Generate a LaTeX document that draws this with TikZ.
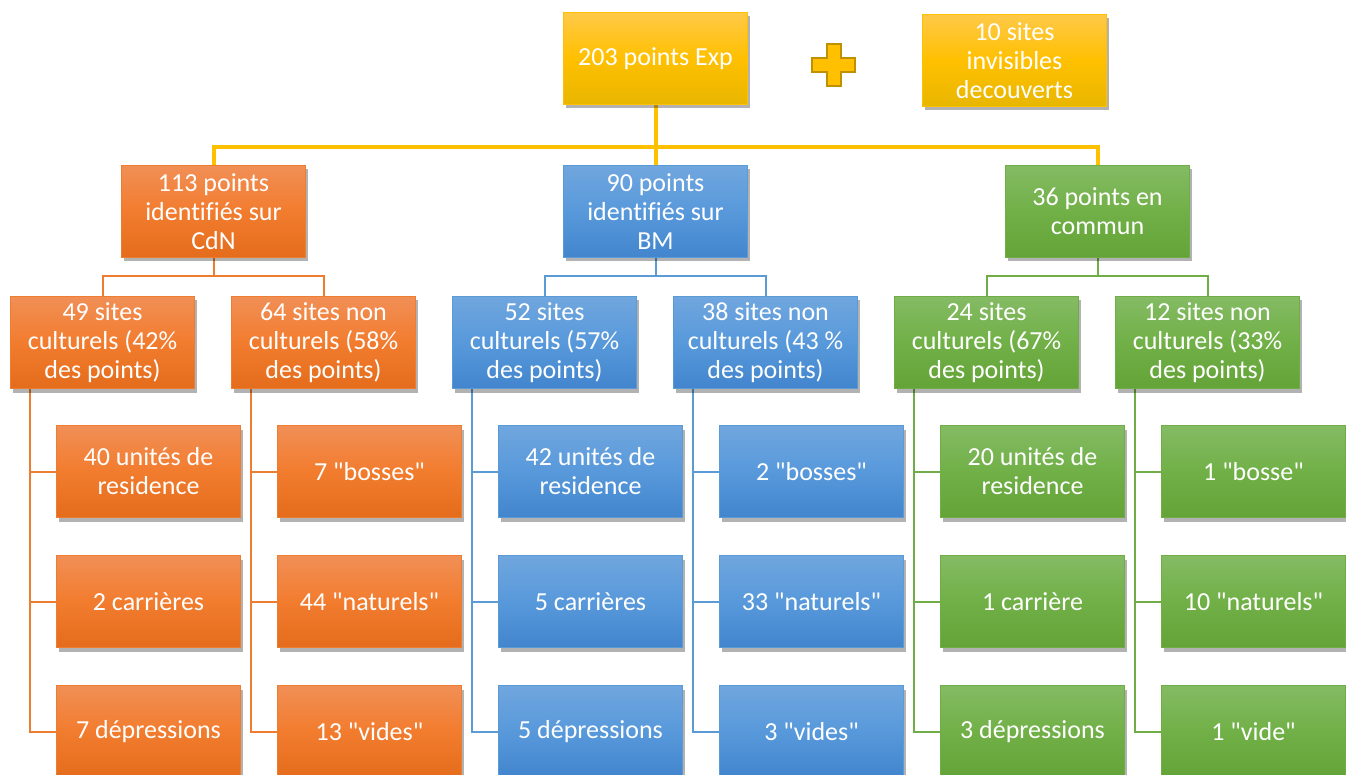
\documentclass[tikz,border=0pt]{standalone}
\usepackage{fontspec}
\setmainfont{Carlito}[Ligatures={TeXOff,NoCommon}]
\usetikzlibrary{shadows,calc,backgrounds}
\newcommand\qt{"}
\definecolor{oTop}{RGB}{241,143,86}
\definecolor{oMid}{RGB}{242,124,46}
\definecolor{oBot}{RGB}{228,108,28}
\definecolor{oBd}{RGB}{237,125,49}
\definecolor{bTop}{RGB}{112,166,222}
\definecolor{bMid}{RGB}{88,153,219}
\definecolor{bBot}{RGB}{66,133,205}
\definecolor{bBd}{RGB}{91,155,213}
\definecolor{gTop}{RGB}{132,187,100}
\definecolor{gMid}{RGB}{113,176,71}
\definecolor{gBot}{RGB}{99,163,55}
\definecolor{gBd}{RGB}{112,173,71}
\definecolor{yTop}{RGB}{255,201,72}
\definecolor{yMid}{RGB}{255,192,0}
\definecolor{yBot}{RGB}{232,182,0}
\definecolor{yBd}{RGB}{255,192,0}
\definecolor{yDark}{RGB}{191,144,0}
\tikzset{
  box/.style={minimum width=184pt, minimum height=92pt, inner sep=0pt, anchor=north west,
    align=center, text=white, font=\fontsize{26}{29}\selectfont, line width=1pt,
    drop shadow={shadow xshift=2pt, shadow yshift=-4pt, opacity=0.3, fill=black}},
  obox/.style={box, draw=oBd, top color=oTop, bottom color=oBot, middle color=oMid},
  bbox/.style={box, draw=bBd, top color=bTop, bottom color=bBot, middle color=bMid},
  gbox/.style={box, draw=gBd, top color=gTop, bottom color=gBot, middle color=gMid},
  ybox/.style={box, draw=yBd, top color=yTop, bottom color=yBot, middle color=yMid},
  yline/.style={draw=yMid, line width=4pt},
  oline/.style={draw=oBd, line width=2pt},
  bline/.style={draw=bBd, line width=2pt},
  gline/.style={draw=gBd, line width=2pt},
}
\begin{document}
\begin{tikzpicture}[x=1pt, y=-1pt]
\useasboundingbox (0,0) rectangle (1346,775);
\coordinate (j) at (655,147);
% top
\node[ybox] (top) at (563,12) {203 points Exp};
\node[ybox] (inv) at (922,14) {10 sites\\invisibles\\decouverts};
\draw[draw=yDark, fill=yMid, line width=1.5pt]
  (827,44) -- (841,44) -- (841,58) -- (855,58) -- (855,72) -- (841,72) -- (841,86)
  -- (827,86) -- (827,72) -- (812,72) -- (812,58) -- (827,58) -- cycle;
% level 1
\node[obox] (l1a) at (121,165) {113 points\\identifiés sur\\CdN};
\node[bbox] (l1b) at (563,165) {90 points\\identifiés sur\\BM};
\node[gbox] (l1c) at (1005,165) {36 points en\\commun};
% level 2
\node[obox] (l2a) at (10,296) {49 sites\\culturels (42\%\\des points)};
\node[obox] (l2b) at (231,296) {64 sites non\\culturels (58\%\\des points)};
\node[bbox] (l2c) at (452,296) {52 sites\\culturels (57\%\\des points)};
\node[bbox] (l2d) at (673,296) {38 sites non\\culturels (43 \%\\des points)};
\node[gbox] (l2e) at (894,296) {24 sites\\culturels (67\%\\des points)};
\node[gbox] (l2f) at (1115,296) {12 sites non\\culturels (33\%\\des points)};
% level 3
\node[obox] (a1) at (56,425) {40 unités de\\residence};
\node[obox] (a2) at (56,555) {2 carrières};
\node[obox] (a3) at (56,685) {7 dépressions};
\node[obox] (b1) at (277,425) {7 \qt bosses\qt};
\node[obox] (b2) at (277,555) {44 \qt naturels\qt};
\node[obox] (b3) at (277,685) {13 \qt vides\qt};
\node[bbox] (c1) at (498,425) {42 unités de\\residence};
\node[bbox] (c2) at (498,555) {5 carrières};
\node[bbox] (c3) at (498,685) {5 dépressions};
\node[bbox] (d1) at (719,425) {2 \qt bosses\qt};
\node[bbox] (d2) at (719,555) {33 \qt naturels\qt};
\node[bbox] (d3) at (719,685) {3 \qt vides\qt};
\node[gbox] (e1) at (940,425) {20 unités de\\residence};
\node[gbox] (e2) at (940,555) {1 carrière};
\node[gbox] (e3) at (940,685) {3 dépressions};
\node[gbox] (f1) at (1161,425) {1 \qt bosse\qt};
\node[gbox] (f2) at (1161,555) {10 \qt naturels\qt};
\node[gbox] (f3) at (1161,685) {1 \qt vide\qt};
% connectors
\begin{pgfonlayer}{background}
\draw[yline] (top.south) -- (l1b.north);
\draw[yline] (l1a.north) |- (j) -| (l1c.north);
\draw[oline] (l1a.south) -- ++(0,18);
\draw[oline] (l2a.north) |- ($(l1a.south)+(0,18)$) -| (l2b.north);
\draw[bline] (l1b.south) -- ++(0,18);
\draw[bline] (l2c.north) |- ($(l1b.south)+(0,18)$) -| (l2d.north);
\draw[gline] (l1c.south) -- ++(0,18);
\draw[gline] (l2e.north) |- ($(l1c.south)+(0,18)$) -| (l2f.north);
\foreach \p/\c/\s in {l2a/a/oline, l2b/b/oline, l2c/c/bline, l2d/d/bline, l2e/e/gline, l2f/f/gline}{
  \draw[\s] ($(\p.south west)+(20,0)$) |- (\c3.west);
  \draw[\s] ($(\p.south west)+(20,0)$) |- (\c2.west);
  \draw[\s] ($(\p.south west)+(20,0)$) |- (\c1.west);
}
\end{pgfonlayer}
\end{tikzpicture}
\end{document}
